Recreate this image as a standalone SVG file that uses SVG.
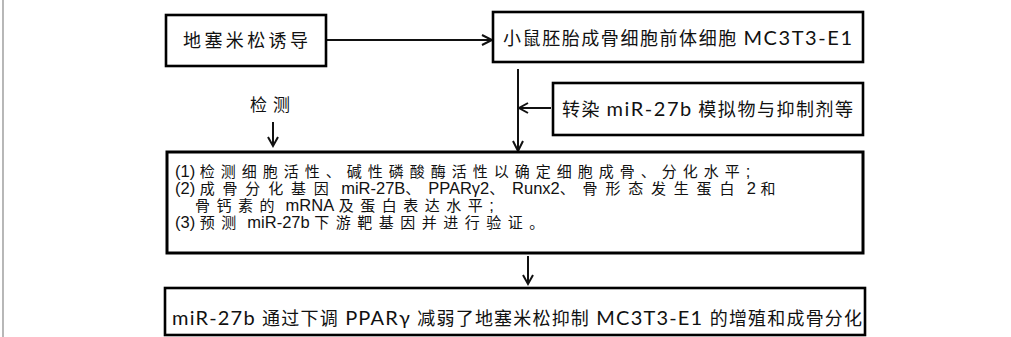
<svg xmlns="http://www.w3.org/2000/svg" width="1011" height="337" viewBox="0 0 1011 337">
<style>
.box{fill:#fff;stroke:#000;stroke-width:2.6}
.t{font-family:"Noto Sans CJK SC",sans-serif;font-size:18px;fill:#111}
.L{font-family:Lato,"Liberation Sans",sans-serif;font-size:20px}
.s{font-family:"Liberation Sans","Noto Sans CJK SC",sans-serif;font-size:15px}
.s .A{font-size:16.5px}
.s .k{letter-spacing:6.5px}
.s.l1 .k{letter-spacing:6px}
.s.l2 .k{letter-spacing:7.8px}
.c{stroke:#111;stroke-width:2;fill:none}
.h{fill:none;stroke:#111;stroke-width:2}
</style>
<rect width="1011" height="337" fill="#fff"/>
<line x1="3" y1="0" x2="3" y2="337" stroke="#888" stroke-width="1.2"/>
<g id="connectors">
<line class="c" x1="327" y1="40" x2="491" y2="40"/>
<path class="h" d="M482,35 L492,40 L482,45"/>
<line class="c" x1="518" y1="69" x2="518" y2="150"/>
<path class="h" d="M513,141 L518,151 L523,141"/>
<line class="c" x1="551" y1="108" x2="520" y2="108"/>
<path class="h" d="M528,103 L519,108 L528,113"/>
<line class="c" x1="273" y1="122" x2="273" y2="146"/>
<path class="h" d="M268,137 L273,146 L278,137"/>
<line class="c" x1="528" y1="256" x2="528" y2="284"/>
<path class="h" d="M523,275 L528,284 L533,275"/>
</g>
<g id="n1">
<rect class="box" x="166" y="15" width="160" height="51"/>
<text class="t" x="183" y="47" textLength="125" lengthAdjust="spacing">地塞米松诱导</text>
</g>
<g id="n2">
<rect class="box" x="493" y="12" width="370" height="50"/>
<text class="t" x="503" y="45" textLength="349" lengthAdjust="spacing">小鼠胚胎成骨细胞前体细胞 <tspan class="L">MC3T3-E1</tspan></text>
</g>
<g id="n3">
<rect class="box" x="553" y="83" width="310" height="52"/>
<text class="t" x="562" y="116" textLength="291" lengthAdjust="spacing">转染 <tspan class="L">miR-27b</tspan> 模拟物与抑制剂等</text>
</g>
<g id="label">
<text class="t" x="250" y="111" textLength="40" lengthAdjust="spacing" style="font-size:17px">检测</text>
</g>
<g id="n4">
<rect class="box" x="167" y="152" width="696" height="101" style="stroke-width:3"/>
<text class="s l1" x="175" y="177" fill="#111"><tspan class="A">(1)&#160;</tspan><tspan class="k">检测细胞活性、碱性磷酸酶活性以确定细胞成骨、分化水平</tspan><tspan class="A">;</tspan></text>
<text class="s l2" x="175" y="194" fill="#111"><tspan class="A">(2)&#160;</tspan><tspan class="k">成骨分化基因</tspan><tspan class="A">&#160;miR-27B</tspan><tspan class="k">、</tspan><tspan class="A">PPARγ2</tspan><tspan class="k">、</tspan><tspan class="A">Runx2</tspan><tspan class="k">、骨形态发生蛋白</tspan><tspan class="A">&#160;2&#160;</tspan><tspan class="k">和</tspan></text>
<text class="s" x="195" y="211" fill="#111"><tspan class="k">骨钙素的</tspan><tspan class="A">&#160;mRNA&#160;</tspan><tspan class="k">及蛋白表达水平</tspan><tspan class="A">;</tspan></text>
<text class="s" x="175" y="228" fill="#111"><tspan class="A">(3)&#160;</tspan><tspan class="k">预测</tspan><tspan class="A">&#160;miR-27b&#160;</tspan><tspan class="k">下游靶基因并进行验证。</tspan></text>
</g>
<g id="n5">
<rect class="box" x="165" y="288" width="700" height="47"/>
<text class="t" x="172" y="325" textLength="690" lengthAdjust="spacing"><tspan class="L">miR-27b&#160;</tspan>通过下调<tspan class="L">&#160;PPARγ&#160;</tspan>减弱了地塞米松抑制<tspan class="L">&#160;MC3T3-E1&#160;</tspan>的增殖和成骨分化</text>
</g>
</svg>
